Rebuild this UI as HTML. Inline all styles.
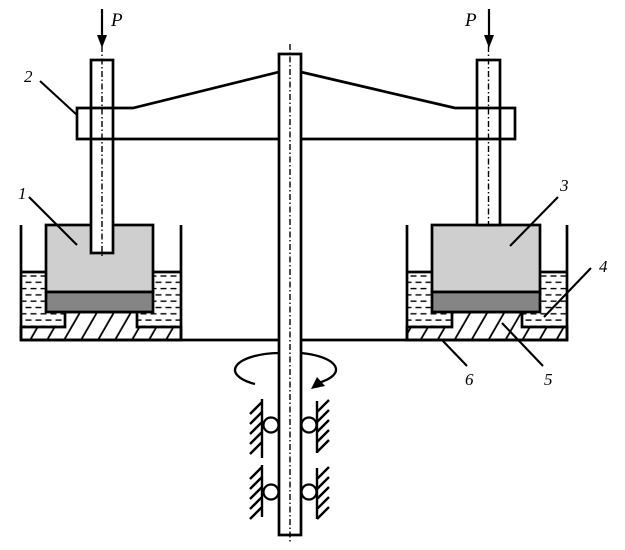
<!DOCTYPE html>
<html>
<head>
<meta charset="utf-8">
<style>
html,body{margin:0;padding:0;background:#fff;}
svg{display:block;}
text{font-family:"Liberation Serif",serif;font-style:italic;fill:#000;}
</style>
</head>
<body>
<svg width="625" height="550" viewBox="0 0 625 550" xmlns="http://www.w3.org/2000/svg">
<defs>
  <pattern id="liq" patternUnits="userSpaceOnUse" width="10" height="12.6" x="0" y="273">
    <line x1="0.5" y1="3" x2="6.5" y2="3" stroke="#000" stroke-width="1.4"/>
    <line x1="5.5" y1="9.3" x2="10" y2="9.3" stroke="#000" stroke-width="1.4"/>
    <line x1="0" y1="9.3" x2="1.5" y2="9.3" stroke="#000" stroke-width="1.4"/>
  </pattern>
  <pattern id="hatch" patternUnits="userSpaceOnUse" width="14.7" height="20" patternTransform="rotate(30)">
    <line x1="5" y1="0" x2="5" y2="20" stroke="#000" stroke-width="1.8"/>
  </pattern>
</defs>

<g stroke="#000" stroke-width="2.7" fill="none" stroke-linejoin="miter">
  <!-- LEFT CONTAINER -->
  <rect x="21" y="272" width="160" height="55" fill="url(#liq)" stroke="none"/>
  <polygon points="21,327 65,327 65,312 137,312 137,327 181,327 181,340 21,340" fill="#fff" stroke="none"/>
  <polygon points="21,327 65,327 65,312 137,312 137,327 181,327 181,340 21,340" fill="url(#hatch)" stroke="#000"/>
  <rect x="46" y="225" width="107" height="67" fill="#cfcfcf"/>
  <rect x="46" y="292" width="107" height="20" fill="#858585"/>
  <line x1="21" y1="272" x2="46" y2="272"/>
  <line x1="153" y1="272" x2="181" y2="272"/>
  <line x1="21" y1="225" x2="21" y2="341"/>
  <line x1="181" y1="225" x2="181" y2="341"/>

  <!-- RIGHT CONTAINER -->
  <rect x="407" y="272" width="160" height="55" fill="url(#liq)" stroke="none"/>
  <polygon points="407,327 452,327 452,312 522,312 522,327 567,327 567,340 407,340" fill="#fff" stroke="none"/>
  <polygon points="407,327 452,327 452,312 522,312 522,327 567,327 567,340 407,340" fill="url(#hatch)" stroke="#000"/>
  <rect x="432" y="225" width="108" height="67" fill="#cfcfcf"/>
  <rect x="432" y="292" width="108" height="20" fill="#858585"/>
  <line x1="407" y1="272" x2="432" y2="272"/>
  <line x1="540" y1="272" x2="567" y2="272"/>
  <line x1="407" y1="225" x2="407" y2="341"/>
  <line x1="567" y1="225" x2="567" y2="341"/>

  <line x1="20" y1="340" x2="568" y2="340"/>

  <rect x="91" y="60" width="22" height="193" fill="#fff"/>
  <rect x="477" y="60" width="23" height="165" fill="#fff"/>

  <polygon points="77,108 133,108 279,72 301,72 455,108 515,108 515,139 77,139" fill="none"/>

  <rect x="279" y="54" width="22" height="481" fill="#fff"/>
</g>

<g stroke="#000" stroke-width="1.4" fill="none" stroke-dasharray="6,2.5,1.5,2.5">
  <line x1="102" y1="46" x2="102" y2="258"/>
  <line x1="488.5" y1="46" x2="488.5" y2="225"/>
  <line x1="290" y1="44" x2="290" y2="543"/>
</g>

<g stroke="#000" stroke-width="2.2">
  <line x1="102" y1="9" x2="102" y2="38"/>
  <line x1="489" y1="9" x2="489" y2="38"/>
</g>
<polygon points="97,35 107,35 102,48" fill="#000"/>
<polygon points="484,35 494,35 489,48" fill="#000"/>
<text x="111" y="26" font-size="19">P</text>
<text x="465" y="26" font-size="19">P</text>

<g stroke="#000" stroke-width="2.3" fill="none">
  <path d="M255,384 A46,17 0 0 1 279,353"/>
  <path d="M301,353 A46,17 0 0 1 318,383"/>
</g>
<polygon points="311,389 317,377 325,386" fill="#000"/>

<g stroke="#000" stroke-width="2.4" fill="none">
  <line x1="262" y1="399" x2="262" y2="458"/>
  <line x1="262" y1="465" x2="262" y2="517"/>
  <line x1="317" y1="401" x2="317" y2="453"/>
  <line x1="317" y1="468" x2="317" y2="519"/>
  <line x1="262" y1="402" x2="250" y2="414"/>
  <line x1="262" y1="412" x2="250" y2="424"/>
  <line x1="262" y1="422" x2="250" y2="434"/>
  <line x1="262" y1="432" x2="250" y2="444"/>
  <line x1="262" y1="442" x2="250" y2="454"/>
  <line x1="262" y1="467" x2="250" y2="479"/>
  <line x1="262" y1="477" x2="250" y2="489"/>
  <line x1="262" y1="487" x2="250" y2="499"/>
  <line x1="262" y1="497" x2="250" y2="509"/>
  <line x1="262" y1="507" x2="250" y2="519"/>
  <line x1="317" y1="412" x2="329" y2="400"/>
  <line x1="317" y1="422" x2="329" y2="410"/>
  <line x1="317" y1="432" x2="329" y2="420"/>
  <line x1="317" y1="442" x2="329" y2="430"/>
  <line x1="317" y1="452" x2="329" y2="440"/>
  <line x1="317" y1="479" x2="329" y2="467"/>
  <line x1="317" y1="489" x2="329" y2="477"/>
  <line x1="317" y1="499" x2="329" y2="487"/>
  <line x1="317" y1="509" x2="329" y2="497"/>
  <line x1="317" y1="519" x2="329" y2="507"/>
</g>
<g stroke="#000" stroke-width="2.2" fill="#fff">
  <circle cx="271" cy="425" r="7.5"/>
  <circle cx="309" cy="425" r="7.5"/>
  <circle cx="271" cy="492" r="7.5"/>
  <circle cx="309" cy="492" r="7.5"/>
</g>

<g stroke="#000" stroke-width="2.1" fill="none">
  <line x1="40" y1="81" x2="77" y2="115"/>
  <line x1="29" y1="197" x2="77" y2="245"/>
  <line x1="558" y1="197" x2="510" y2="246"/>
  <line x1="591" y1="268" x2="544" y2="317"/>
  <line x1="543" y1="366" x2="502" y2="323"/>
  <line x1="467" y1="366" x2="442" y2="340"/>
</g>

<text x="24" y="82" font-size="17">2</text>
<text x="18" y="199" font-size="17">1</text>
<text x="560" y="191" font-size="17">3</text>
<text x="599" y="272" font-size="17">4</text>
<text x="544" y="385" font-size="17">5</text>
<text x="465" y="385" font-size="17">6</text>
</svg>
</body>
</html>
